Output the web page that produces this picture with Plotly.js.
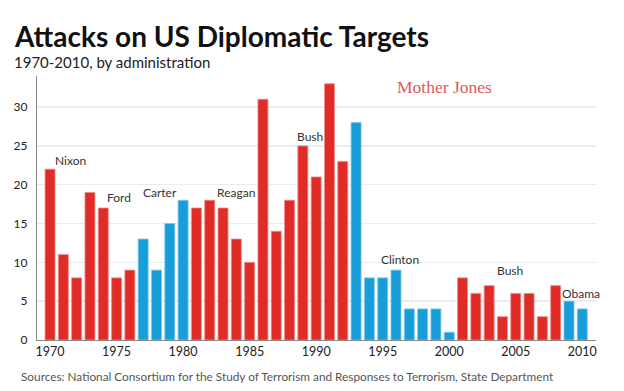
<!DOCTYPE html>
<html><head><meta charset="utf-8">
<script src="https://cdn.plot.ly/plotly-3.0.1.min.js"></script>
<style>html,body{margin:0;padding:0;background:#fff;}#chart{width:624px;height:391px;}</style>
</head><body><div id="chart"></div>
<script>
const years = [1970,1971,1972,1973,1974,1975,1976,1977,1978,1979,1980,1981,1982,1983,1984,1985,1986,1987,1988,1989,1990,1991,1992,1993,1994,1995,1996,1997,1998,1999,2000,2001,2002,2003,2004,2005,2006,2007,2008,2009,2010];
const attacks = [22,11,8,19,17,8,9,13,9,15,18,17,18,17,13,10,31,14,18,25,21,33,23,28,8,8,9,4,4,4,1,8,6,7,3,6,6,3,7,5,4];
const party = ['R','R','R','R','R','R','R','D','D','D','D','R','R','R','R','R','R','R','R','R','R','R','R','D','D','D','D','D','D','D','D','R','R','R','R','R','R','R','R','D','D'];
const presidents = ['Nixon','Ford','Carter','Reagan','Bush','Clinton','Bush','Obama'];
const presLabelYear = [1971.5,1975.2,1978.3,1984.0,1989.55,1996.3,2004.6,2009.9];
const presLabelValue = [23.1,18.3,19.0,19.0,26.2,10.4,9.0,6.0];
const yTicks = [0,5,10,15,20,25,30];
const xTicks = [1970,1975,1980,1985,1990,1995,2000,2005,2010];

const RED = '#e02b27', BLUE = '#179ed8';
const colors = party.map(p => p === 'R' ? RED : BLUE);
const lines = party.map(p => p === 'R' ? '#ee8a88' : '#7cc6ea');
const F = 'Lato, sans-serif';

const trace = {type:'bar', x:years, y:attacks, marker:{color:colors, line:{color:lines, width:0.8}}, hoverinfo:'x+y'};

const annotations = presidents.map((n,i)=>({x:presLabelYear[i], y:presLabelValue[i], xref:'x', yref:'y', text:n, showarrow:false, xanchor:'center', font:{family:F, size:12, color:'#333'}}));
annotations.push(
 {xref:'paper', yref:'paper', x:-0.043, y:1.083, yanchor:'bottom', xanchor:'left', text:'<b>Attacks on US Diplomatic Targets</b>', showarrow:false, borderpad:0, font:{family:F, size:28, color:'#111'}},
 {xref:'paper', yref:'paper', x:-0.043, y:1.016, yanchor:'bottom', xanchor:'left', text:'1970-2010, by administration', showarrow:false, borderpad:0, font:{family:F, size:15, color:'#222'}},
 {xref:'paper', yref:'paper', x:0.818, y:0.957, yanchor:'middle', xanchor:'right', text:'Mother Jones', showarrow:false, font:{family:'Liberation Serif, serif', size:17.5, color:'#dc5a58'}},
 {xref:'paper', yref:'paper', x:-0.032, y:-0.140, yanchor:'middle', xanchor:'left', text:'Sources: National Consortium for the Study of Terrorism and Responses to Terrorism, State Department', showarrow:false, font:{family:F, size:11.8, color:'#555'}}
);

const layout = {
 width:624, height:391, margin:{l:37, r:28, t:76, b:51},
 paper_bgcolor:'#fff', plot_bgcolor:'#fff', showlegend:false, bargap:0.25,
 xaxis:{range:[1969.02,2011.03], tickvals:xTicks, ticktext:xTicks.map(String), showgrid:false, zeroline:false, showline:true, linecolor:'#888', linewidth:1.2, ticks:'', tickfont:{family:F, size:12.5, color:'#222'}},
 yaxis:{range:[0,34], tickvals:yTicks, ticktext:yTicks.map(String), showgrid:true, gridcolor:'#ececec', gridwidth:1.5, zeroline:false, showline:true, linecolor:'#888', linewidth:1.2, ticks:'', ticklabelstandoff:6, tickfont:{family:F, size:12, color:'#222'}},
 annotations: annotations,
 font:{family:F}
};
Plotly.newPlot('chart',[trace],layout,{displayModeBar:false, staticPlot:true});
</script></body></html>
